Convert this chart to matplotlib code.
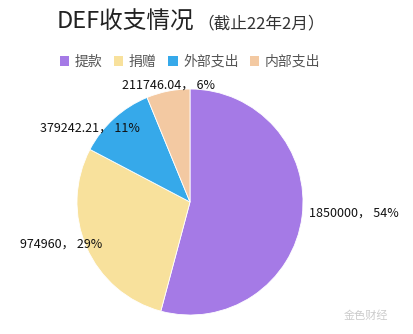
import matplotlib
matplotlib.use("Agg")
import matplotlib.pyplot as plt
from matplotlib.patches import Patch

plt.rcParams['font.family'] = ['Noto Sans CJK SC', 'DejaVu Sans']

categories = ['提款', '捐赠', '外部支出', '内部支出']
values = [1850000, 974960, 379242.21, 211746.04]
value_labels = ['1850000', '974960', '379242.21', '211746.04']
colors = ['#a57ae6', '#f8e19c', '#36a9ea', '#f3c9a2']

W, H = 414, 334
fig = plt.figure(figsize=(W / 100, H / 100), dpi=100)
fig.patch.set_facecolor('white')

cx, cy, r = 190, 202, 113
ax = fig.add_axes([(cx - r) / W, (H - cy - r) / H, 2 * r / W, 2 * r / H])
wedges, _ = ax.pie(values, colors=colors, startangle=90, counterclock=False,
                   radius=1, wedgeprops=dict(linewidth=0.6, edgecolor='white'))
ax.set_xlim(-1, 1)
ax.set_ylim(-1, 1)
ax.set_aspect('equal')
ax.axis('off')

total = sum(values)
pcts = [round(v / total * 100) for v in values]
label_pos = [(309, 213, 'left'), (20, 244, 'left'), (40, 128, 'left'), (122, 85, 'left')]
for (x, y, ha), vl, p in zip(label_pos, value_labels, pcts):
    fig.text(x / W, 1 - y / H, f'{vl}， {p}%', ha=ha, va='center', fontsize=9, color='#111111')

fig.text(57 / W, 1 - 22 / H, 'DEF收支情况', ha='left', va='center', fontsize=17, color='#222222')
fig.text(197 / W, 1 - 24 / H, '（截止22年2月）', ha='left', va='center', fontsize=12, color='#333333')

handles = [Patch(facecolor=c, edgecolor='none') for c in colors]
fig.legend(handles, categories, loc='center', bbox_to_anchor=(190 / W, 1 - 62 / H), ncol=4,
           frameon=False, fontsize=10, labelcolor='#555555', handlelength=0.7, handleheight=0.7,
           handletextpad=0.4, columnspacing=0.8)

fig.text(388 / W, 1 - 316 / H, '金色财经', ha='right', va='center', fontsize=8, color='#cccccc')

fig.savefig('out.png', dpi=100)
